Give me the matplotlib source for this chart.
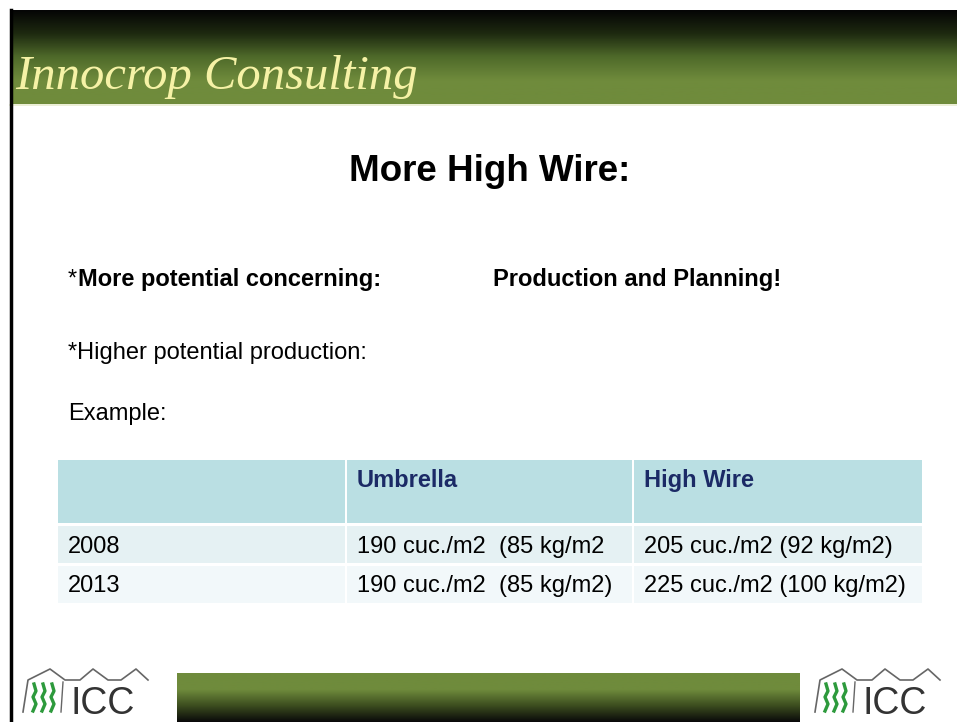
import numpy as np
import matplotlib.pyplot as plt
from matplotlib.patches import Rectangle
from matplotlib.colors import LinearSegmentedColormap

# slide content
header_text = "Innocrop Consulting"
title_text = "More High Wire"
bullets = ["*Higher potential production:", "Example:"]
col_labels = ["", "Umbrella", "High Wire"]
years = ["2008", "2013"]
umbrella = ["190 cuc./m2  (85 kg/m2", "190 cuc./m2  (85 kg/m2)"]
high_wire = ["205 cuc./m2 (92 kg/m2)", "225 cuc./m2 (100 kg/m2)"]

W, H = 957, 722
fig = plt.figure(figsize=(W / 100, H / 100), dpi=100)
ax = fig.add_axes([0, 0, 1, 1])
ax.set_xlim(0, W)
ax.set_ylim(H, 0)
ax.axis("off")

green = "#6f8b3c"
head_cmap = LinearSegmentedColormap.from_list("head", ["#050505", "#1e2a10", "#4f6a2a", green, green])
grad = np.linspace(0, 1, 100).reshape(-1, 1)
ax.imshow(grad, cmap=head_cmap, extent=[10, W, 104, 10], aspect="auto", zorder=1)
ax.plot([10, W], [105, 105], color="#e9ecd0", lw=1.2, zorder=2)
# left border
ax.plot([10.5, 10.5], [10, H], color="black", lw=2.5, zorder=3)

ax.text(15, 89, header_text, family="Liberation Serif", style="italic",
        fontsize=35, color="#f6f2a6", ha="left", va="baseline", zorder=4)

font = "Liberation Sans"
fs = 17

# title
ax.text(490, 181, title_text + ":", family=font, fontsize=26.5,
        fontweight="bold", ha="center", va="baseline")

ax.text(68, 286, "*", family=font, fontsize=fs, ha="left", va="baseline")
ax.text(78, 286, "More potential concerning:", family=font, fontsize=fs,
        fontweight="bold", ha="left", va="baseline")
ax.text(493, 286, "Production and Planning!", family=font, fontsize=fs,
        fontweight="bold", ha="left", va="baseline")
for i, b in enumerate(bullets):
    ax.text(68, [359, 420][i], b, family=font, fontsize=fs, ha="left", va="baseline")

# table
col_x = [58, 347, 634]
col_w = [287, 285, 288]
row_y = [460, 526, 566]
row_h = [63, 37, 37]
row_col = ["#badfe3", "#e5f1f3", "#f2f8fa"]
base_y = [487, 553, 592]
rows = [col_labels] + [[years[i], umbrella[i], high_wire[i]] for i in range(len(years))]
for r, cells in enumerate(rows):
    for c, txt in enumerate(cells):
        ax.add_patch(Rectangle((col_x[c], row_y[r]), col_w[c], row_h[r],
                               facecolor=row_col[r], edgecolor="none"))
        if r == 0:
            ax.text(col_x[c] + 10, base_y[r], txt, family=font, fontsize=fs,
                    fontweight="bold", color="#1b2a66", va="baseline")
        else:
            ax.text(col_x[c] + 10, base_y[r], txt, family=font, fontsize=fs,
                    color="black", va="baseline")

# bottom bar
foot_cmap = LinearSegmentedColormap.from_list("foot", [green, green, "#3c4d1f", "#0a0a0a"])
ax.imshow(grad, cmap=foot_cmap, extent=[177, 800, H, 673], aspect="auto", zorder=1)


def logo(x0):
    rx = np.array([0, 5, 27, 42, 57, 70, 85, 98, 113, 125]) + x0
    ry = np.array([712, 680, 669, 680, 680, 669, 680, 680, 669, 680])
    ax.plot(rx, ry, color="#666666", lw=1.2)
    ax.plot([x0 + 40, x0 + 38], [682, 712], color="#666666", lw=1)
    for k in range(3):
        xs = x0 + 10 + k * 9 + np.array([1, 3, 0, 3, 0])
        ax.plot(xs, [684, 691, 697, 704, 711], color="#2d9a3c", lw=2.4)
    ax.text(x0 + 47, 714, "ICC", family=font, fontsize=27,
            color="#333333", ha="left", va="baseline")


logo(23)
logo(815)

fig.savefig("out.png", dpi=100)
